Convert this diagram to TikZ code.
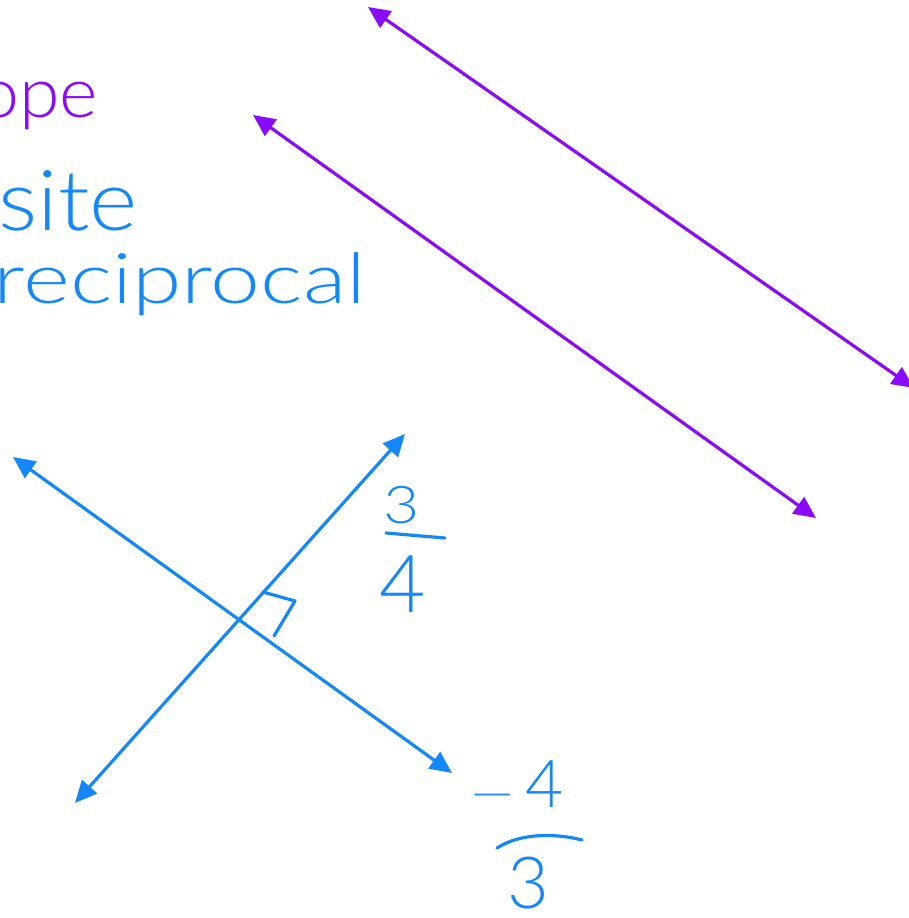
\documentclass[tikz,border=0pt]{standalone}
\usepackage{fontspec}
\IfFontExistsTF{Lato Light}{\setmainfont{Lato Light}}{\setmainfont{Lato}}
\usetikzlibrary{arrows.meta}
\definecolor{hpurple}{RGB}{138,10,250}
\definecolor{hblue}{RGB}{20,135,250}
\tikzset{
  arr/.style={line width=3.2pt,{Triangle[length=22pt,width=20pt]}-{Triangle[length=22pt,width=20pt]}},
  pline/.style={arr,hpurple},
  bline/.style={arr,hblue},
  hand/.style={inner sep=0pt,outer sep=0pt},
  stroke/.style={line width=3.2pt,line cap=round,line join=round,hblue},
}
\begin{document}
\begin{tikzpicture}[x=1pt,y=-1pt]
\useasboundingbox (0,0) rectangle (908,918);
% words
\node[hand,anchor=base east,text=hpurple,font=\fontsize{70}{72}\selectfont] (wslope) at (98,117) {\scalebox{1.05}[1]{ope}};
\node[hand,anchor=base east,text=hblue,font=\fontsize{84}{86}\selectfont] (wopp) at (138,230) {\scalebox{1.1}[1]{site}};
\node[hand,anchor=base east,text=hblue,font=\fontsize{70}{72}\selectfont] (wrecip) at (366,303) {\scalebox{1.28}[1]{reciprocal}};
% purple parallel lines
\coordinate (p1a) at (368,7);
\coordinate (p1b) at (914,388);
\coordinate (p2a) at (253,115);
\coordinate (p2b) at (816,518);
\draw[pline] (p1a) -- (p1b);
\draw[pline] (p2a) -- (p2b);
% blue perpendicular lines
\coordinate (b1a) at (13,457);
\coordinate (b1b) at (452,773);
\coordinate (b2a) at (75,803);
\coordinate (b2b) at (405,434);
\draw[bline] (b1a) -- (b1b);
\draw[bline] (b2a) -- (b2b);
% right angle mark
\coordinate (ra1) at (263,592);
\coordinate (ra2) at (295,601);
\coordinate (ra3) at (274,636);
\draw[stroke] (ra1) -- (ra2) -- (ra3);
% fraction 3/4
\node[hand,anchor=base,text=hblue,font=\fontsize{52}{54}\selectfont] (n3a) at (402,523) {\scalebox{1.2}[1]{3}};
\coordinate (bar1a) at (386,533);
\coordinate (bar1b) at (445,538);
\draw[stroke] (bar1a) -- (bar1b);
\node[hand,anchor=base,text=hblue,font=\fontsize{80}{82}\selectfont] (n4a) at (403,612) {4};
% fraction -4/3
\node[hand,text=hblue,font=\fontsize{50}{52}\selectfont] (minus) at (493,802) {\scalebox{1.8}[1]{–}};
\node[hand,anchor=base,text=hblue,font=\fontsize{66}{68}\selectfont] (n4b) at (545,807) {4};
\coordinate (bar2a) at (497,848);
\coordinate (bar2b) at (582,840);
\draw[stroke] (bar2a) .. controls (520,833) and (555,833) .. (bar2b);
\node[hand,anchor=base,text=hblue,font=\fontsize{72}{74}\selectfont] (n3b) at (528,908) {3};
\end{tikzpicture}
\end{document}
